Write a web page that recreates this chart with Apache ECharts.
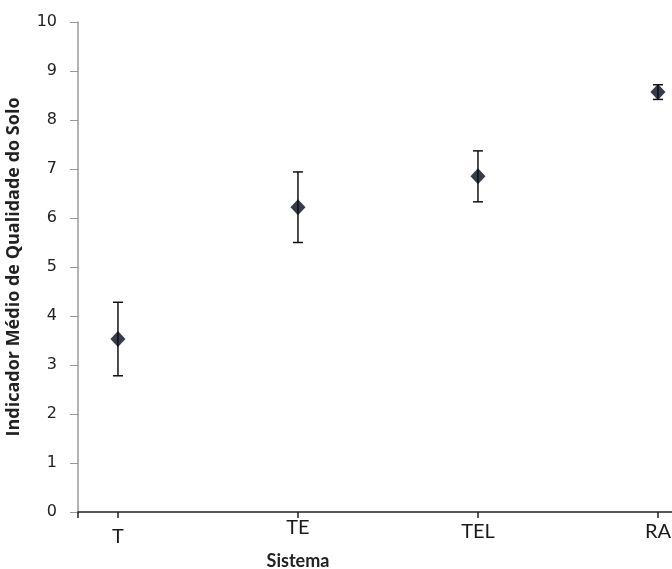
<!DOCTYPE html>
<html>
<head>
    <meta charset="utf-8" />
    <title>Indicador Médio de Qualidade do Solo</title>
    <script src="https://cdn.jsdelivr.net/npm/echarts@6/dist/echarts.min.js"></script>
</head>
<body style="margin:0">
<div id="main" style="width: 672px;height:569px;"></div>

<script type="text/javascript">
    // dados
    var sistemas = ['T', 'TE', 'TEL', 'RA'];
    var medias = [3.53, 6.22, 6.85, 8.57];
    var erros = [0.75, 0.72, 0.52, 0.15];
    var yTicks = [0, 1, 2, 3, 4, 5, 6, 7, 8, 9, 10];

    var xMin = 0.778, xMax = 4.078;
    var pontos = sistemas.map(function (s, i) { return [i + 1, medias[i]]; });
    var barras = sistemas.map(function (s, i) { return [i + 1, medias[i] - erros[i], medias[i] + erros[i]]; });

    // rótulos do eixo x um pouco desalinhados como no original
    var desloc = [9, 0, 4, 4];
    var richX = {};
    desloc.forEach(function (d, i) {
        richX['c' + i] = { fontFamily: 'Lato', fontSize: 20, color: '#1a1a1a', padding: [d, 0, 0, 0] };
    });

    var myChart = echarts.init(document.getElementById('main'));

    var option = {
        animation: false,
        backgroundColor: '#fff',
        grid: { left: 78, top: 22, right: 0, bottom: 57, outerBoundsMode: 'none', containLabel: false },
        xAxis: {
            type: 'value',
            min: xMin,
            max: xMax,
            name: 'Sistema',
            nameLocation: 'middle',
            nameGap: 40,
            nameTextStyle: { fontFamily: 'Lato', fontWeight: 'bold', fontSize: 18, color: '#222', padding: [0, 154, 0, 0] },
            splitLine: { show: false },
            axisLine: { lineStyle: { color: '#222', width: 1.5 } },
            axisTick: { show: true, length: 6, lineStyle: { color: '#222', width: 1.5 }, customValues: [xMin, 1, 2, 3, 4] },
            axisLabel: {
                margin: 6,
                customValues: [1, 2, 3, 4],
                formatter: function (v) {
                    var i = Math.round(v) - 1;
                    return '{c' + i + '|' + sistemas[i] + '}';
                },
                rich: richX
            }
        },
        yAxis: {
            type: 'value',
            min: 0,
            max: 10,
            interval: 1,
            name: 'Indicador Médio de Qualidade do Solo',
            nameLocation: 'middle',
            nameGap: 55,
            nameTextStyle: { fontFamily: 'Open Sans', fontWeight: 'bold', fontSize: 18, color: '#222' },
            splitLine: { show: false },
            axisLine: { show: true, lineStyle: { color: '#999', width: 1.5 } },
            axisTick: { show: true, length: 8, lineStyle: { color: '#999' } },
            axisLabel: { margin: 21, fontFamily: 'DejaVu Sans', fontSize: 16, color: '#222', customValues: yTicks }
        },
        series: [
            {
                type: 'custom',
                data: barras,
                renderItem: function (params, api) {
                    var x = api.value(0);
                    var lo = api.coord([x, api.value(1)]);
                    var hi = api.coord([x, api.value(2)]);
                    var w = 5;
                    var st = { stroke: '#111', lineWidth: 1.5 };
                    return {
                        type: 'group',
                        children: [
                            { type: 'line', shape: { x1: lo[0], y1: lo[1], x2: hi[0], y2: hi[1] }, style: st },
                            { type: 'line', shape: { x1: lo[0] - w, y1: lo[1], x2: lo[0] + w, y2: lo[1] }, style: st },
                            { type: 'line', shape: { x1: hi[0] - w, y1: hi[1], x2: hi[0] + w, y2: hi[1] }, style: st }
                        ]
                    };
                },
                z: 1
            },
            {
                type: 'scatter',
                data: pontos,
                symbol: 'diamond',
                symbolSize: [15, 16],
                itemStyle: { color: '#060b18' },
                z: 2
            }
        ]
    };

    myChart.setOption(option);
</script>
</body>
</html>
